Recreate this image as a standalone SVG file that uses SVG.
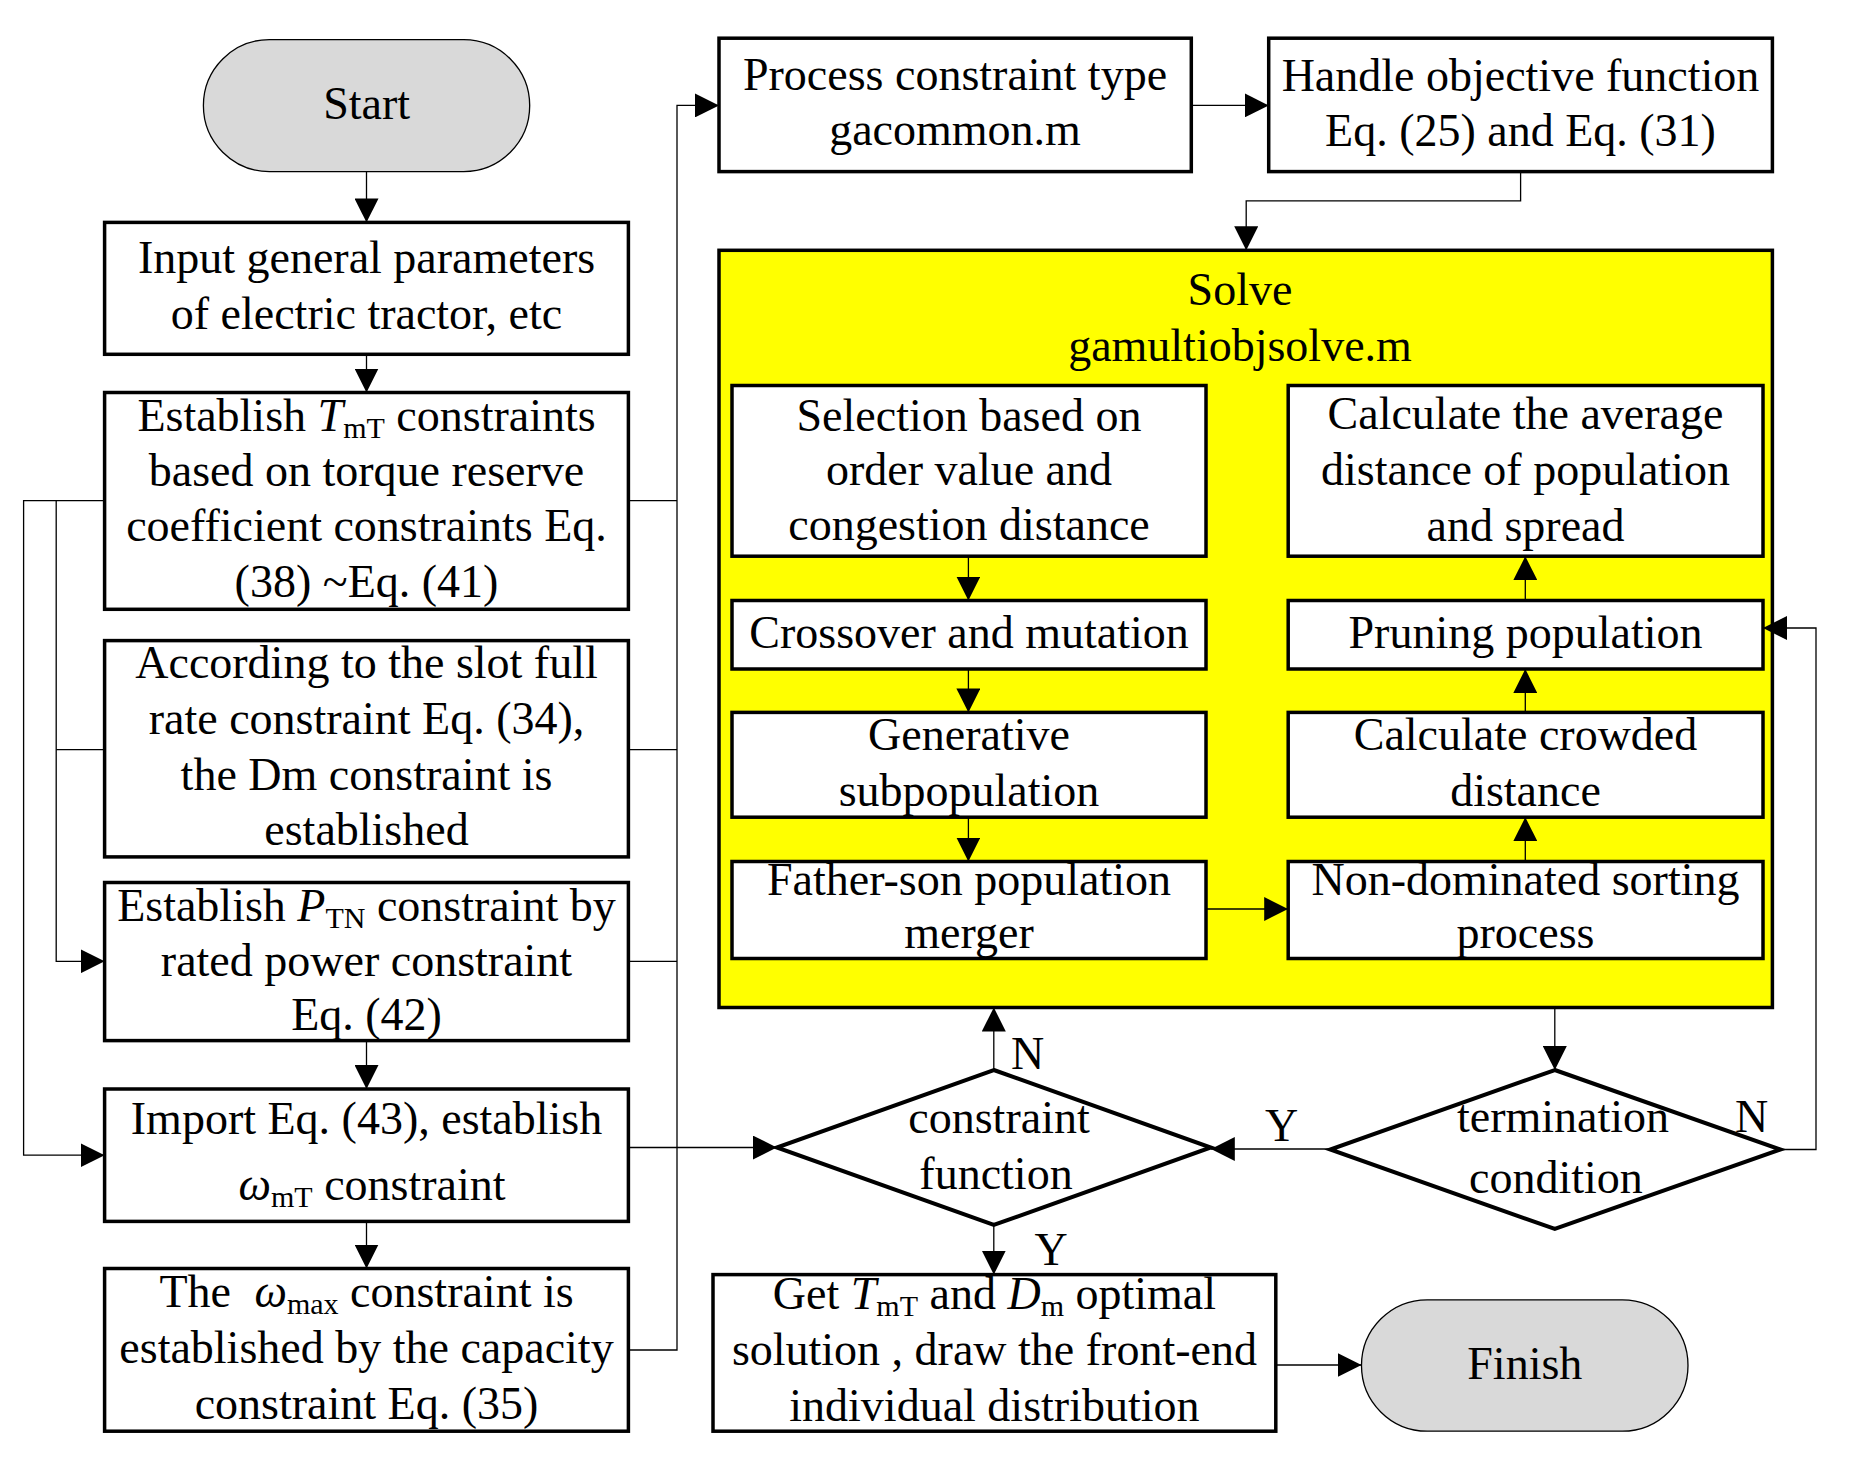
<svg xmlns="http://www.w3.org/2000/svg" width="1854" height="1462" viewBox="0 0 1854 1462">
<defs>
<style>
.t{font-family:"Liberation Serif","Times New Roman",serif;font-size:46px;text-anchor:middle;fill:#000}
.it{font-style:italic}
.sub{font-size:30px}
.box{fill:#fff;stroke:#000;stroke-width:3.5}
.dia{fill:#fff;stroke:#000;stroke-width:4}
.oval{fill:#d9d9d9;stroke:#000;stroke-width:1.3}
.ln{fill:none;stroke:#000;stroke-width:1.3}
</style>
<marker id="ah" viewBox="0 0 24 24" refX="24" refY="12" markerWidth="24" markerHeight="24" markerUnits="userSpaceOnUse" orient="auto"><path d="M0,0 L24,12 L0,24 Z" fill="#000"/></marker>
</defs>
<rect width="1854" height="1462" fill="#fff"/>

<g id="solve">
<rect x="719" y="250.3" width="1053.4" height="757.2" fill="#ffff00" stroke="#000" stroke-width="3.5"/>
<text class="t" x="1240" y="305">Solve</text>
<text class="t" x="1240" y="361">gamultiobjsolve.m</text>
</g>

<g id="connectors">
<path class="ln" d="M366.5,171.6 V222.4" marker-end="url(#ah)"/>
<path class="ln" d="M366.5,354.3 V392.5" marker-end="url(#ah)"/>
<path class="ln" d="M366.5,1040.6 V1089" marker-end="url(#ah)"/>
<path class="ln" d="M366.5,1221.4 V1268.5" marker-end="url(#ah)"/>
<path class="ln" d="M104.6,500.7 H23.6 V1155.2 H104.6" marker-end="url(#ah)"/>
<path class="ln" d="M56.2,500.7 V961.3 H104.6" marker-end="url(#ah)"/>
<path class="ln" d="M104.6,749.6 H56.2"/>
<path class="ln" d="M628.4,500.7 H677"/>
<path class="ln" d="M628.4,749.6 H677"/>
<path class="ln" d="M628.4,961.3 H677"/>
<path class="ln" d="M628.4,1350 H677 V105.4 H719" marker-end="url(#ah)"/>
<path class="ln" d="M628.4,1147.5 H776.8" marker-end="url(#ah)"/>
<path class="ln" d="M1191.3,105.4 H1268.7" marker-end="url(#ah)"/>
<path class="ln" d="M1520.6,171.6 V200.9 H1246.2 V250.3" marker-end="url(#ah)"/>
<path class="ln" d="M968.4,556.2 V600.5" marker-end="url(#ah)"/>
<path class="ln" d="M968.4,669 V712.4" marker-end="url(#ah)"/>
<path class="ln" d="M968.4,817.2 V861.5" marker-end="url(#ah)"/>
<path class="ln" d="M1206,909 H1288.2" marker-end="url(#ah)"/>
<path class="ln" d="M1525.3,861.5 V817.2" marker-end="url(#ah)"/>
<path class="ln" d="M1525.3,712.4 V669" marker-end="url(#ah)"/>
<path class="ln" d="M1525.3,600.5 V556.2" marker-end="url(#ah)"/>
<path class="ln" d="M1554.8,1007.5 V1070" marker-end="url(#ah)"/>
<path class="ln" d="M1330.2,1149 H1210.8" marker-end="url(#ah)"/>
<path class="ln" d="M1780.5,1149.5 H1816 V628 H1763" marker-end="url(#ah)"/>
<path class="ln" d="M993.8,1070 V1007.5" marker-end="url(#ah)"/>
<path class="ln" d="M993.8,1225 V1274.6" marker-end="url(#ah)"/>
<path class="ln" d="M1275.8,1365 H1361.5" marker-end="url(#ah)"/>
<text class="t" x="1027.5" y="1069">N</text>
<text class="t" x="1281.7" y="1141">Y</text>
<text class="t" x="1751.7" y="1132">N</text>
<text class="t" x="1051" y="1265">Y</text>
</g>

<g id="start">
<rect class="oval" x="203.4" y="39.6" width="326.3" height="132" rx="66" ry="66"/>
<text class="t" x="366.6" y="119">Start</text>
</g>

<g id="input">
<rect class="box" x="104.6" y="222.4" width="523.8" height="131.9"/>
<text class="t" x="366.5" y="272.7">Input general parameters</text>
<text class="t" x="366.5" y="328.7">of electric tractor, etc</text>
</g>

<g id="estT">
<rect class="box" x="104.6" y="392.5" width="523.8" height="216.8"/>
<text class="t" x="366.5" y="431">Establish <tspan class="it">T</tspan><tspan class="sub" dy="7">mT</tspan><tspan dy="-7"> constraints</tspan></text>
<text class="t" x="366.5" y="486">based on torque reserve</text>
<text class="t" x="366.5" y="541">coefficient constraints Eq.</text>
<text class="t" x="366.5" y="597">(38) ~Eq. (41)</text>
</g>

<g id="according">
<rect class="box" x="104.6" y="640.6" width="523.8" height="216.3"/>
<text class="t" x="366.5" y="678">According to the slot full</text>
<text class="t" x="366.5" y="733.5">rate constraint Eq. (34),</text>
<text class="t" x="366.5" y="790">the Dm constraint is</text>
<text class="t" x="366.5" y="845">established</text>
</g>

<g id="estP">
<rect class="box" x="104.6" y="882.5" width="523.8" height="158.1"/>
<text class="t" x="366.5" y="921">Establish <tspan class="it">P</tspan><tspan class="sub" dy="7">TN</tspan><tspan dy="-7"> constraint by</tspan></text>
<text class="t" x="366.5" y="976">rated power constraint</text>
<text class="t" x="366.5" y="1029.5">Eq. (42)</text>
</g>

<g id="import">
<rect class="box" x="104.6" y="1089" width="523.8" height="132.4"/>
<text class="t" x="366.5" y="1134">Import Eq. (43), establish</text>
<text class="t" x="372" y="1199.5"><tspan class="it">ω</tspan><tspan class="sub" dy="7">mT</tspan><tspan dy="-7"> constraint</tspan></text>
</g>

<g id="omegamax">
<rect class="box" x="104.6" y="1268.5" width="523.8" height="162.7"/>
<text class="t" x="366.5" y="1307">The <tspan class="it" dx="12">ω</tspan><tspan class="sub" dy="7">max</tspan><tspan dy="-7"> constraint is</tspan></text>
<text class="t" x="366.5" y="1363">established by the capacity</text>
<text class="t" x="366.5" y="1419">constraint Eq. (35)</text>
</g>

<g id="process">
<rect class="box" x="719" y="38.2" width="472.3" height="133.4"/>
<text class="t" x="955" y="90">Process constraint type</text>
<text class="t" x="955" y="145">gacommon.m</text>
</g>

<g id="handle">
<rect class="box" x="1268.7" y="38.2" width="503.7" height="133.4"/>
<text class="t" x="1520.5" y="91">Handle objective function</text>
<text class="t" x="1520.5" y="145.5">Eq. (25) and Eq. (31)</text>
</g>

<g id="selection">
<rect class="box" x="732" y="385.5" width="474" height="170.7"/>
<text class="t" x="969" y="431">Selection based on</text>
<text class="t" x="969" y="485">order value and</text>
<text class="t" x="969" y="540">congestion distance</text>
</g>

<g id="crossover">
<rect class="box" x="732" y="600.5" width="474" height="68.5"/>
<text class="t" x="969" y="648">Crossover and mutation</text>
</g>

<g id="generative">
<rect class="box" x="732" y="712.4" width="474" height="104.8"/>
<text class="t" x="969" y="750">Generative</text>
<text class="t" x="969" y="806">subpopulation</text>
</g>

<g id="fatherson">
<rect class="box" x="732" y="861.5" width="474" height="97"/>
<text class="t" x="969" y="895">Father-son population</text>
<text class="t" x="969" y="948">merger</text>
</g>

<g id="average">
<rect class="box" x="1288.2" y="385.5" width="474.8" height="170.7"/>
<text class="t" x="1525.5" y="429">Calculate the average</text>
<text class="t" x="1525.5" y="485">distance of population</text>
<text class="t" x="1525.5" y="541">and spread</text>
</g>

<g id="pruning">
<rect class="box" x="1288.2" y="600.5" width="474.8" height="68.5"/>
<text class="t" x="1525.5" y="648">Pruning population</text>
</g>

<g id="crowded">
<rect class="box" x="1288.2" y="712.4" width="474.8" height="104.8"/>
<text class="t" x="1525.5" y="750">Calculate crowded</text>
<text class="t" x="1525.5" y="806">distance</text>
</g>

<g id="nondominated">
<rect class="box" x="1288.2" y="861.5" width="474.8" height="97"/>
<text class="t" x="1525.5" y="895">Non-dominated sorting</text>
<text class="t" x="1525.5" y="948">process</text>
</g>

<g id="constraintfn">
<polygon class="dia" points="993.8,1070 1210.8,1147.5 993.8,1225 776.8,1147.5"/>
<text class="t" x="999" y="1133">constraint</text>
<text class="t" x="996" y="1189">function</text>
</g>

<g id="termination">
<polygon class="dia" points="1554.8,1070 1780.5,1149.5 1554.8,1229 1330.2,1149.5"/>
<text class="t" x="1563" y="1132">termination</text>
<text class="t" x="1556" y="1192.5">condition</text>
</g>

<g id="result">
<rect class="box" x="713" y="1274.6" width="562.8" height="156.6"/>
<text class="t" x="994.4" y="1309">Get <tspan class="it">T</tspan><tspan class="sub" dy="7">mT</tspan><tspan dy="-7"> and </tspan><tspan class="it">D</tspan><tspan class="sub" dy="7">m</tspan><tspan dy="-7"> optimal</tspan></text>
<text class="t" x="994.4" y="1365">solution , draw the front-end</text>
<text class="t" x="994.4" y="1421">individual distribution</text>
</g>

<g id="finish">
<rect class="oval" x="1361.5" y="1299.8" width="326.5" height="131.4" rx="65.7" ry="65.7"/>
<text class="t" x="1524.8" y="1379">Finish</text>
</g>
</svg>
